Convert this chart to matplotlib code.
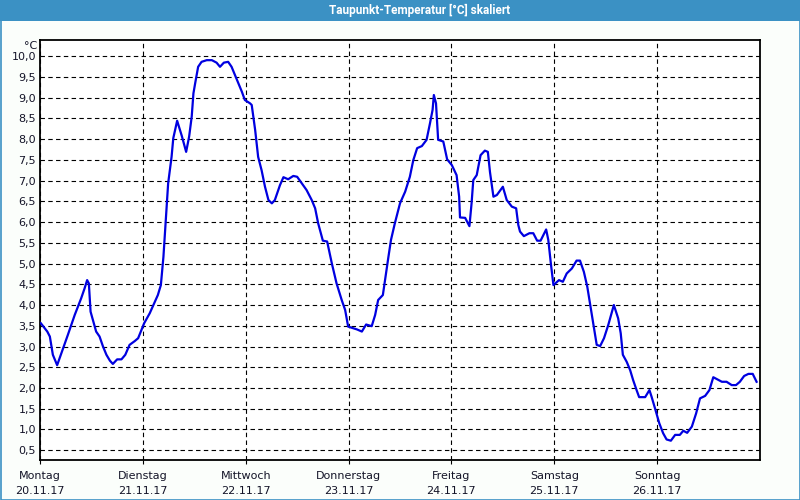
import matplotlib
matplotlib.use("Agg")
import matplotlib.pyplot as plt
from matplotlib.patches import Rectangle

# ---- data (hours since Monday 20.11.17 00:00, dew point in °C) ----
hours = [0.2, 1.7, 2.3, 3.0, 4.0, 5.4, 6.5, 8.1, 9.6, 10.4, 11.0, 11.4, 11.8, 13.1, 13.9,
         14.7, 15.5, 16.3, 17.0, 18.0, 19.0, 19.9, 20.9, 22.1, 22.9, 24.3, 25.6, 26.8, 27.5,
         28.2, 28.8, 29.4, 29.9, 30.7, 31.1, 32.0, 33.1, 34.1, 34.8, 35.4, 35.8, 36.2, 36.9,
         37.7, 38.9, 40.1, 41.2, 42.0, 42.9, 43.9, 44.7, 45.5, 46.3, 47.1, 47.8, 49.0, 49.4,
         50.2, 50.9, 51.7, 52.5, 53.3, 54.1, 54.8, 56.0, 56.8, 57.9, 59.1, 60.0, 61.1, 62.2,
         63.4, 64.2, 64.9, 66.0, 67.0, 68.1, 69.2, 70.4, 71.2, 71.9, 73.1, 74.0, 75.1, 76.1,
         77.4, 78.2, 78.9, 80.0, 80.5, 81.3, 81.9, 82.8, 84.0, 85.2, 86.3, 87.1, 88.0, 89.1,
         90.2, 91.0, 91.6, 91.9, 92.4, 92.9, 94.1, 95.0, 96.1, 97.2, 97.8, 98.0, 99.2, 100.2,
         100.7, 101.1, 101.9, 102.8, 103.8, 104.5, 105.0, 105.8, 106.6, 108.0, 108.9, 110.1,
         111.1, 111.6, 112.0, 112.9, 114.2, 115.1, 116.0, 116.8, 118.1, 118.6, 119.2, 119.8,
         121.1, 122.0, 122.9, 124.1, 125.2, 126.0, 126.9, 127.7, 128.7, 129.9, 130.7, 131.6,
         132.6, 133.9, 134.9, 135.5, 136.0, 136.9, 137.7, 138.4, 139.2, 139.8, 141.2, 142.2,
         142.7, 143.5, 144.5, 145.4, 146.2, 147.2, 148.2, 149.3, 150.1, 151.0, 152.1, 153.1,
         154.0, 155.2, 156.2, 157.1, 158.0, 159.1, 160.2, 161.4, 162.4, 163.3, 164.3, 165.3,
         166.3, 167.2]
taupunkt = [3.56, 3.36, 3.24, 2.80, 2.55, 2.96, 3.28, 3.76, 4.16, 4.40, 4.60, 4.52, 3.84, 3.36, 3.24,
            3.00, 2.80, 2.66, 2.58, 2.69, 2.69, 2.80, 3.04, 3.13, 3.20, 3.56, 3.80, 4.08, 4.24,
            4.48, 5.16, 6.13, 6.93, 7.57, 8.02, 8.44, 8.07, 7.69, 8.06, 8.54, 9.10, 9.34, 9.74,
            9.86, 9.90, 9.90, 9.84, 9.74, 9.84, 9.86, 9.74, 9.54, 9.34, 9.14, 8.94, 8.86, 8.82,
            8.22, 7.57, 7.25, 6.85, 6.53, 6.45, 6.53, 6.89, 7.08, 7.03, 7.11, 7.09, 6.93, 6.77,
            6.53, 6.33, 5.97, 5.55, 5.53, 5.00, 4.52, 4.12, 3.88, 3.48, 3.44, 3.41, 3.36, 3.53,
            3.49, 3.76, 4.12, 4.24, 4.60, 5.16, 5.57, 5.97, 6.45, 6.73, 7.09, 7.49, 7.78, 7.83,
            7.98, 8.38, 8.70, 9.06, 8.86, 7.98, 7.94, 7.51, 7.37, 7.13, 6.61, 6.11, 6.10, 5.90,
            6.45, 7.01, 7.13, 7.61, 7.72, 7.69, 7.20, 6.61, 6.65, 6.85, 6.53, 6.37,
            6.33, 5.93, 5.77, 5.66, 5.73, 5.73, 5.55, 5.55, 5.82, 5.57, 5.00, 4.48,
            4.60, 4.56, 4.76, 4.88, 5.07, 5.07, 4.80, 4.44, 3.80, 3.04, 3.01, 3.20,
            3.52, 4.00, 3.68, 3.32, 2.80, 2.63, 2.43, 2.19, 1.95, 1.78, 1.78, 1.95,
            1.79, 1.51, 1.15, 0.91, 0.76, 0.73, 0.87, 0.87, 0.97, 0.92, 1.07, 1.39,
            1.75, 1.81, 1.95, 2.26, 2.21, 2.15, 2.15, 2.07, 2.07, 2.15, 2.29, 2.34,
            2.34, 2.15]

day_names = ["Montag", "Dienstag", "Mittwoch", "Donnerstag", "Freitag", "Samstag", "Sonntag"]
day_dates = ["20.11.17", "21.11.17", "22.11.17", "23.11.17", "24.11.17", "25.11.17", "26.11.17"]
y_ticks = [0.5, 1.0, 1.5, 2.0, 2.5, 3.0, 3.5, 4.0, 4.5, 5.0, 5.5, 6.0, 6.5, 7.0, 7.5,
           8.0, 8.5, 9.0, 9.5, 10.0]
title = "Taupunkt-Temperatur [°C] skaliert"
unit = "°C"

# ---- figure ----
bar_color = "#3b91c4"
bg = "#fbfefb"
text_col = "#141428"
fig = plt.figure(figsize=(8, 5), dpi=100, facecolor=bg)

# title bar and frame
fig.patches.append(Rectangle((0, 1 - 20.5 / 500), 1, 20.5 / 500, transform=fig.transFigure,
                             facecolor=bar_color, edgecolor="none", zorder=0))
fig.patches.append(Rectangle((0.5 / 800, 0.5 / 500), 799 / 800, 499 / 500, transform=fig.transFigure,
                             facecolor="none", edgecolor=bar_color, lw=1.2, zorder=5))
fig.text(420 / 800, 1 - 10.5 / 500, title, color="white", fontsize=8.5, fontweight="bold",
         ha="center", va="center", family="Roboto")

ax = fig.add_axes([40 / 800, 1 - 460 / 500, 720 / 800, 420 / 500])
ax.set_facecolor("#ffffff")

x_days = [h / 24.0 for h in hours]
ax.plot(x_days, taupunkt, color="#0000e0", lw=1.6, solid_joinstyle="round", zorder=3)

ax.set_xlim(0, 7)
ax.set_ylim(0.265, 10.386)

ax.set_yticks(y_ticks)
ax.set_yticklabels([f"{v:.1f}".replace(".", ",") for v in y_ticks])
ax.set_xticks(range(len(day_names)))
ax.set_xticklabels([f"{n}\n{d}" for n, d in zip(day_names, day_dates)], linespacing=1.6)

ax.tick_params(axis="y", length=0, pad=3, labelsize=8, labelcolor=text_col)
ax.tick_params(axis="x", length=3, width=0.8, pad=5, labelsize=8, labelcolor=text_col)

ax.grid(True, color="black", linestyle=(0, (4, 3)), lw=0.8)
for s in ax.spines.values():
    s.set_color("black")
    s.set_linewidth(1.3)

fig.text(37 / 800, 1 - 46 / 500, unit, ha="right", va="center", fontsize=8, color=text_col)

fig.savefig("out.png", dpi=100, facecolor=bg)
